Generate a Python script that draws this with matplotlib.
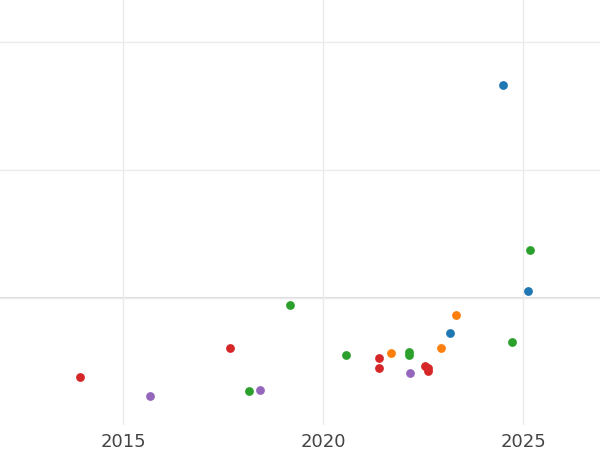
import matplotlib
matplotlib.use("Agg")
import matplotlib.pyplot as plt

blue_x = [24.5, 25.125, 23.175]
blue_y = [1.664, 0.055, -0.273]
green_x = [25.175, 19.175, 24.725, 20.575, 22.15, 22.15, 18.15]
green_y = [0.375, -0.055, -0.344, -0.445, -0.422, -0.445, -0.727]
orange_x = [23.325, 21.7, 22.95]
orange_y = [-0.133, -0.430, -0.391]
red_x = [17.675, 13.925, 21.4, 21.4, 22.55, 22.625, 22.625]
red_y = [-0.391, -0.617, -0.469, -0.547, -0.531, -0.570, -0.547]
purple_x = [15.675, 18.425, 22.175]
purple_y = [-0.766, -0.719, -0.586]

series = [(blue_x, blue_y, "#1f77b4"), (green_x, green_y, "#2ca02c"),
          (orange_x, orange_y, "#ff7f0e"), (red_x, red_y, "#d62728"),
          (purple_x, purple_y, "#9467bd")]

fig = plt.figure(figsize=(6, 4.5), dpi=100)
ax = fig.add_axes([0, 25/450, 1, 425/450])
for xs, ys, c in series:
    ax.scatter([2000 + v for v in xs], ys, s=40, color=c, zorder=3, linewidths=0)
ax.set_xlim(2011.925, 2026.925)
ax.set_ylim(-0.99, 2.33)
ax.set_xticks([2015, 2020, 2025])
ax.set_yticks([0, 1, 2])
ax.set_yticklabels([])
ax.tick_params(axis="y", length=0)
ax.tick_params(axis="x", length=0, labelsize=13, labelcolor="#444444", pad=6)
ax.grid(True, color="#ebebeb", linewidth=1)
ax.axhline(0, color="#dddddd", linewidth=1.5, zorder=1)
for s in ax.spines.values():
    s.set_visible(False)
fig.savefig("out.png", dpi=100)
